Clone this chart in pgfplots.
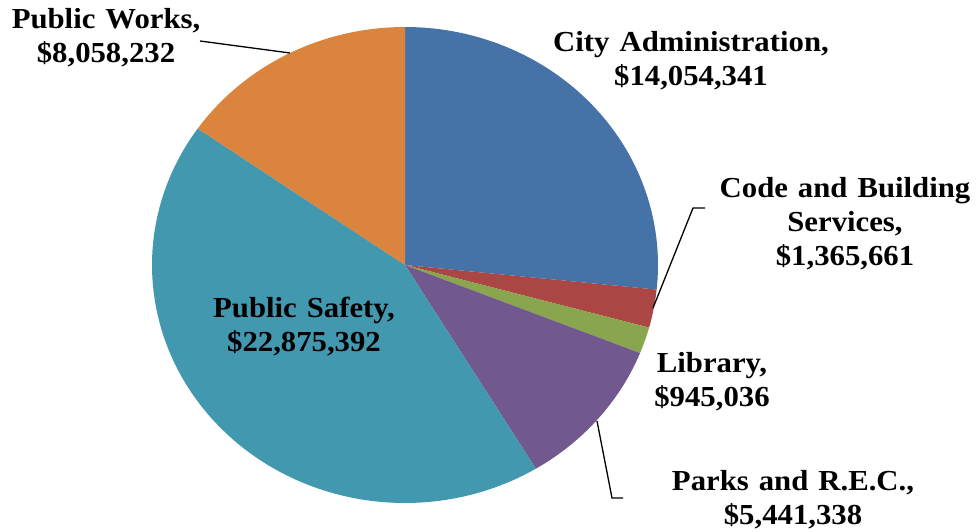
\documentclass[border=0pt]{standalone}
\usepackage{fontspec}
\setmainfont[FakeStretch=1.06, WordSpace=1.3]{Liberation Serif}
\usepackage{pgfplots}
\pgfplotsset{compat=1.18}
\definecolor{cCity}{HTML}{4572A7}
\definecolor{cCode}{HTML}{AA4643}
\definecolor{cLib}{HTML}{89A54E}
\definecolor{cParks}{HTML}{71588F}
\definecolor{cSafety}{HTML}{4198AF}
\definecolor{cWorks}{HTML}{DB843D}
% budget values
\def\vCity{14054341}
\def\vCode{1365661}
\def\vLib{945036}
\def\vParks{5441338}
\def\vSafety{22875392}
\def\vWorks{8058232}
\edef\vTotal{\fpeval{\vCity+\vCode+\vLib+\vParks+\vSafety+\vWorks}}
% cumulative angles, clockwise from 90 degrees
\edef\aA{90}
\edef\aB{\fpeval{\aA-360*\vCity/\vTotal}}
\edef\aC{\fpeval{\aB-360*\vCode/\vTotal}}
\edef\aD{\fpeval{\aC-360*\vLib/\vTotal}}
\edef\aE{\fpeval{\aD-360*\vParks/\vTotal}}
\edef\aF{\fpeval{\aE-360*\vSafety/\vTotal}}
\edef\aG{\fpeval{\aF-360*\vWorks/\vTotal}}
\begin{document}
\begin{tikzpicture}
\begin{axis}[
  x=1pt, y=1pt, scale only axis,
  xmin=0, xmax=977, ymin=-531, ymax=0,
  hide axis, clip=false,
  every axis plot/.append style={variable=\t, samples=120, draw=none},
]
\addplot[draw=none, forget plot] coordinates {(0,0) (977,-531)};
\addplot[fill=cCity, domain=\aB:\aA] ({405+253*cos(\t)},{-265+238*sin(\t)}) -- (axis cs:405,-265) -- cycle;
\addplot[fill=cCode, domain=\aC:\aB] ({405+253*cos(\t)},{-265+238*sin(\t)}) -- (axis cs:405,-265) -- cycle;
\addplot[fill=cLib, domain=\aD:\aC] ({405+253*cos(\t)},{-265+238*sin(\t)}) -- (axis cs:405,-265) -- cycle;
\addplot[fill=cParks, domain=\aE:\aD] ({405+253*cos(\t)},{-265+238*sin(\t)}) -- (axis cs:405,-265) -- cycle;
\addplot[fill=cSafety, domain=\aF:\aE] ({405+253*cos(\t)},{-265+238*sin(\t)}) -- (axis cs:405,-265) -- cycle;
\addplot[fill=cWorks, domain=\aG:\aF] ({405+253*cos(\t)},{-265+238*sin(\t)}) -- (axis cs:405,-265) -- cycle;
% leader lines
\draw[black, line width=1.3pt] (axis cs:200,-41) -- (axis cs:290,-53);
\draw[black, line width=1.3pt] (axis cs:705,-208) -- (axis cs:693,-208) -- (axis cs:653,-308);
\draw[black, line width=1.3pt] (axis cs:597,-421) -- (axis cs:612,-498) -- (axis cs:623,-498);
% labels
\tikzset{lbl/.style={align=center, inner sep=0pt, font=\fontsize{29}{34}\selectfont\bfseries}}
\node[lbl] at (axis cs:106,-38) {Public Works,\\\$8,058,232};
\node[lbl] at (axis cs:691,-61) {City Administration,\\\$14,054,341};
\node[lbl] at (axis cs:845,-224) {Code and Building\\Services,\\\$1,365,661};
\node[lbl] at (axis cs:712,-382) {Library,\\\$945,036};
\node[lbl] at (axis cs:793,-500) {Parks and R.E.C.,\\\$5,441,338};
\node[lbl] at (axis cs:304,-327) {Public Safety,\\\$22,875,392};
\end{axis}
\end{tikzpicture}
\end{document}
